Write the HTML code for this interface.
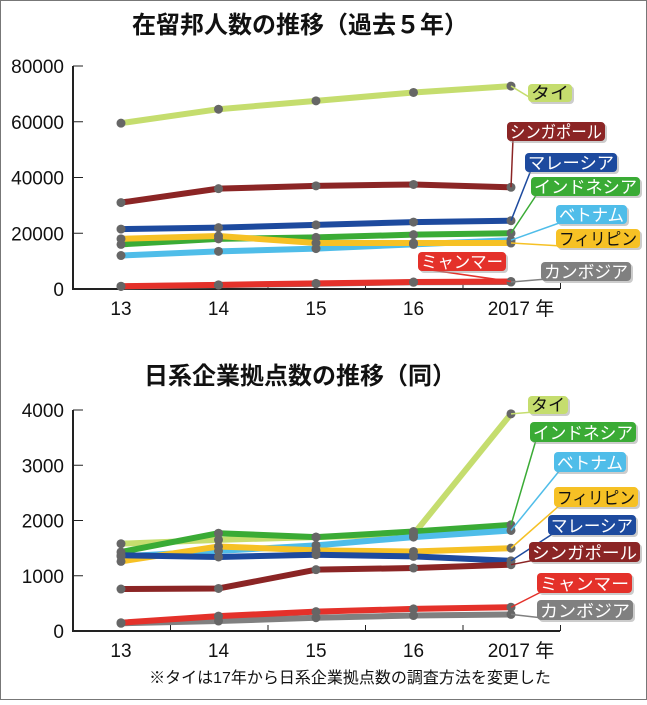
<!DOCTYPE html>
<html><head><meta charset="utf-8">
<style>
html,body{margin:0;padding:0;background:#fff;}
body{width:647px;height:700px;overflow:hidden;font-family:"Liberation Sans","Noto Sans CJK JP",sans-serif;}
svg text{font-family:"Liberation Sans","Noto Sans CJK JP",sans-serif;}
</style></head>
<body>
<svg id="c" width="647" height="700">
<rect x="0.5" y="0.5" width="646" height="699" fill="#fff" stroke="#777"/>
<text x="300" y="33" text-anchor="middle" font-size="24" font-weight="bold" fill="#111">在留邦人数の推移（過去５年）</text>
<text x="300" y="384" text-anchor="middle" font-size="24" font-weight="bold" fill="#111">日系企業拠点数の推移（同）</text>
<text x="350" y="683" text-anchor="middle" font-size="16" fill="#111">※タイは17年から日系企業拠点数の調査方法を変更した</text>
</svg>
<script>
const years = ['13','14','15','16','2017 年'];
const names = ['タイ','シンガポール','マレーシア','インドネシア','ベトナム','フィリピン','ミャンマー','カンボジア'];
const colors = ['#c5dd6e','#8b2525','#1d4a9e','#3aab35','#4fbde9','#f6c125','#e4312a','#808080'];
const residents = [
 [59500,64500,67500,70500,72800],
 [31000,36000,37000,37500,36500],
 [21500,22000,23000,24000,24500],
 [16000,18000,18500,19500,20000],
 [12000,13500,14500,16000,17500],
 [18000,19000,16500,16500,16500],
 [1000,1500,2000,2500,2700],
 [900,1400,1900,2400,2500]
];
const companies = [
 [1580,1650,1700,1750,3930],
 [760,770,1110,1140,1200],
 [1370,1340,1380,1350,1270],
 [1430,1770,1700,1800,1920],
 [1350,1450,1550,1700,1820],
 [1260,1530,1460,1440,1500],
 [150,270,350,400,430],
 [140,180,240,280,300]
];
const ticks1 = [0,20000,40000,60000,80000];
const ticks2 = [0,1000,2000,3000,4000];
const box1 = [[528,84,44,18],[507,122,98,19],[525,153,92,19],[531,177,109,19],[556,205,71,19],[556,229,84,19],[418,252,88,19],[541,262,90,19]];
const box2 = [[528,396,40,18],[529,542,111,20],[548,515,88,20],[530,422,106,20],[554,452,72,20],[554,487,84,20],[537,573,95,20],[537,600,96,20]];
const order1 = [0,1,2,3,4,5,7,6];
const order2 = [0,3,4,5,2,1,7,6];
const svg = document.getElementById('c');
const NS = 'http://www.w3.org/2000/svg';
function mk(t, a, p){const e=document.createElementNS(NS,t);for(const k in a)e.setAttribute(k,a[k]);(p||svg).appendChild(e);return e;}
function drawChart(id, data, ticks, maxV, y0, yTop, boxes, order){
  const X = i => 121 + i*97.5;
  const Y = v => y0 - (v/maxV)*(y0-yTop);
  const g = mk('g',{});
  
  
  const ax = mk('path',{d:`M73 ${yTop} V${y0} H560`,stroke:'#222','stroke-width':2,fill:'none'},g);
  
  
  ticks.forEach(t=>{
    mk('line',{x1:73,x2:83,y1:Y(t),y2:Y(t),stroke:'#222','stroke-width':1},g);
    const tx = mk('text',{x:64,y:Y(t)+7,'text-anchor':'end','font-size':19,fill:'#111'},g);
    tx.textContent = t;
    
    
  });
  for(let i=1;i<=5;i++) mk('line',{x1:73+i*97.5,x2:73+i*97.5,y1:y0,y2:y0-6,stroke:'#222','stroke-width':1},g);
  years.forEach((yr,i)=>{
    const tx = mk('text',{x:X(i)+(i==4?10:0),y:y0+26,'text-anchor':'middle','font-size':19,fill:'#111'},g);
    tx.textContent = yr;
    
    
  });
  order.forEach(s=>{
    const d = data[s].map((v,i)=>(i?'L':'M')+X(i)+' '+Y(v)).join(' ');
    const ln = mk('path',{d:d,stroke:colors[s],'stroke-width':6,fill:'none','stroke-linejoin':'round'},g);
    
    
  });
  order.forEach(s=>{
    data[s].forEach((v,i)=>{
      const c = mk('circle',{cx:X(i),cy:Y(v),r:4.5,fill:'#666'},g);
      
      
    });
  });
  order.forEach(s=>{
    const b = boxes[s];
    const ex = X(4), ey = Y(data[s][4]);
    const lx = b[0]+6, ly = b[1]+b[3]-2;
    mk('line',{x1:ex,y1:ey,x2:lx,y2:ly,stroke:colors[s],'stroke-width':1.5},g);
    mk('rect',{x:b[0]+2,y:b[1]+2,width:b[2],height:b[3],rx:4,fill:'#999',opacity:0.5},g);
    const r = mk('rect',{x:b[0],y:b[1],width:b[2],height:b[3],rx:4,fill:colors[s]},g);
    
    
    const t = mk('text',{x:b[0]+b[2]/2,y:b[1]+b[3]-3,'text-anchor':'middle','font-size':17,fill:s==0||s==5?'#111':'#fff',textLength:b[2]-6,lengthAdjust:'spacingAndGlyphs'},g);
    t.textContent = names[s];
    
    
  });
}
drawChart('residents-chart', residents, ticks1, 80000, 289, 66, box1, order1);
drawChart('companies-chart', companies, ticks2, 4000, 631, 410, box2, order2);
</script>
</body></html>
